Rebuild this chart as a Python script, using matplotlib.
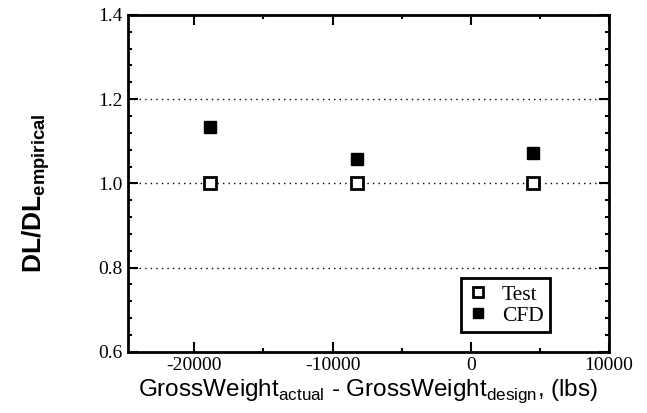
import matplotlib.pyplot as plt
from matplotlib.ticker import MultipleLocator

plt.rcParams['axes.unicode_minus'] = False

# data
weight_diff = [-18900, -8200, 4500]
test_ratio = [1.0, 1.0, 1.0]
cfd_ratio = [1.135, 1.057, 1.072]

x_ticks = [-20000, -10000, 0, 10000]
y_ticks = [0.6, 0.8, 1.0, 1.2, 1.4]
grid_levels = [0.8, 1.0, 1.2]

serif = ['Liberation Serif', 'DejaVu Serif']
sans = ['Liberation Sans', 'DejaVu Sans']

fig = plt.figure(figsize=(6.47, 4.13), dpi=100)
ax = fig.add_axes([0.198, 0.148, 0.743, 0.816])

for lvl in grid_levels:
    ax.axhline(lvl, color='black', linestyle=(0, (1, 3)), linewidth=1.0, zorder=1)

ax.plot(weight_diff, test_ratio, linestyle='none', marker='s', markersize=9,
        markerfacecolor='white', markeredgecolor='black', markeredgewidth=2, label='Test', zorder=3)
ax.plot(weight_diff, cfd_ratio, linestyle='none', marker='s', markersize=9,
        color='black', label='CFD', zorder=3)

ax.set_xlim(-24800, 10000)
ax.set_ylim(0.6, 1.4)
ax.set_xticks(x_ticks)
ax.set_xticklabels([str(v) for v in x_ticks])
ax.set_yticks(y_ticks)
ax.set_yticklabels([f'{v:.1f}' for v in y_ticks])
ax.xaxis.set_minor_locator(MultipleLocator(5000))
ax.yaxis.set_minor_locator(MultipleLocator(0.04))
ax.tick_params(which='both', direction='in', top=True, right=True, width=1.5)
ax.tick_params(which='major', length=7, labelsize=14, pad=4)
ax.tick_params(which='minor', length=3)
for lab in ax.get_xticklabels() + ax.get_yticklabels():
    lab.set_family(serif)

for sp in ax.spines.values():
    sp.set_linewidth(2)

ax.set_xlabel(r'GrossWeight$_{\mathregular{actual}}$ - GrossWeight$_{\mathregular{design}}$, (lbs)',
              family=sans, fontsize=17.5)
ax.xaxis.set_label_coords(0.5, -0.075)
ax.xaxis.label.set_va('top')
ax.set_ylabel(r'DL/DL$_{\mathregular{empirical}}$', family=sans, fontsize=19,
              fontweight='bold')
ax.yaxis.set_label_coords(-0.158, 0.47)

leg = ax.legend(loc='lower right', bbox_to_anchor=(0.878, 0.058), prop={'family': serif, 'size': 15.5},
                fancybox=False, edgecolor='black', framealpha=1, handletextpad=0.6,
                borderpad=0.3, labelspacing=0.05, handlelength=1.0, borderaxespad=0,
                markerscale=0.85)
leg.get_frame().set_linewidth(2)

plt.savefig('out.png', dpi=100)
